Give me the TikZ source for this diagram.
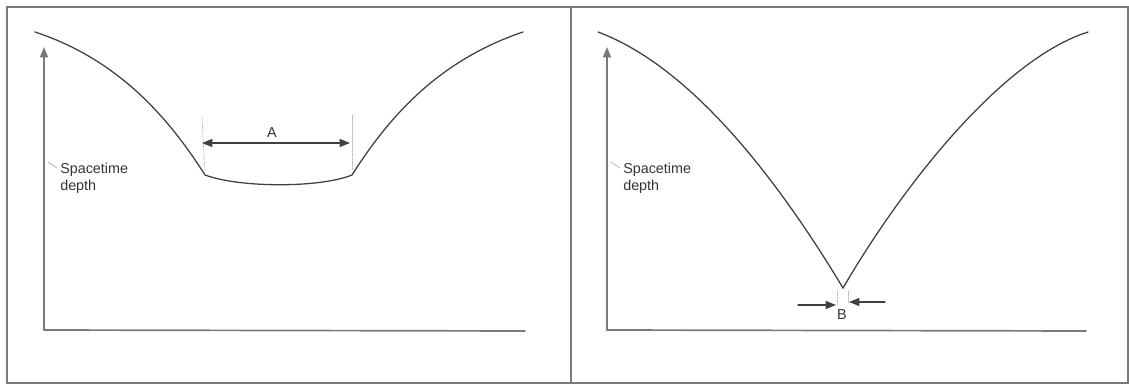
\documentclass[tikz,border=0pt]{standalone}
\usepackage{fontspec}
\setmainfont{Liberation Sans}
\usetikzlibrary{arrows.meta}
\usepackage{xcolor}
\definecolor{framegray}{HTML}{7A7A7A}
\definecolor{curvegray}{HTML}{404040}

\begin{document}
\begin{tikzpicture}[x=0.025cm,y=-0.025cm,>={Triangle[length=2.6mm,width=2mm]},
  font=\fontsize{10.2}{12}\selectfont,line cap=round,
  frame/.style={framegray,line width=1.5pt},
  axis/.style={framegray,line width=1.2pt},
  curve/.style={curvegray,line width=0.9pt},
  guide/.style={gray!70,densely dotted,line width=0.5pt},
  leader/.style={gray!60,line width=0.5pt},
  lbl/.style={inner sep=0pt,text=black!80,align=left}]
\useasboundingbox (0,0) rectangle (1129,385);
% outer frame and divider
\draw[frame] (7,7) rectangle (1128,383);
\draw[frame] (571,7) -- (571,383);
% left panel
\coordinate (lO) at (44,330);
\coordinate (lTop) at (44,47);
\coordinate (lEnd) at (525,331);
\draw[axis] (lEnd) -- (lO);
\draw[axis,->] (lO) -- (lTop);
\coordinate (lS) at (35,32);
\coordinate (lA) at (205,175);
\coordinate (lB) at (352,175);
\coordinate (lE) at (523,32);
\draw[curve] (lS) .. controls (120,60) and (170,120) .. (lA)
  .. controls (240,188) and (320,188) .. (lB)
  .. controls (390,115) and (440,60) .. (lE);
\coordinate (gA1) at (202,117);
\coordinate (gA2) at (352,115);
\draw[guide] (gA1) -- (lA);
\draw[guide] (gA2) -- (352,170);
\coordinate (aL) at (202,143);
\coordinate (aR) at (350,143);
\draw[curve,<->] (aL) -- (aR);
\node[lbl] (labA) at (272,133) {A};
\node[lbl,anchor=north west] (depthL) at (60,163) {Spacetime\\depth};
\coordinate (tipL) at (57,168);
\draw[leader] (48,162) -- (tipL);
% right panel
\coordinate (rO) at (607,330);
\coordinate (rTop) at (607,47);
\coordinate (rEnd) at (1086,331);
\draw[axis] (rEnd) -- (rO);
\draw[axis,->] (rO) -- (rTop);
\coordinate (rS) at (598,32);
\coordinate (rV) at (843,288);
\coordinate (rE) at (1088,32);
\draw[curve] (rS) .. controls (700,70) and (790,200) .. (rV)
  .. controls (900,190) and (1000,60) .. (rE);
\coordinate (gB1) at (837,291);
\coordinate (gB2) at (848,291);
\draw[guide] (gB1) -- (837,305);
\draw[guide] (gB2) -- (848,303);
\coordinate (bL) at (798,305);
\coordinate (bR) at (885,302);
\draw[curve,->] (bL) -- (836,305);
\draw[curve,->] (bR) -- (849,302);
\node[lbl] (labB) at (842,315) {B};
\node[lbl,anchor=north west] (depthR) at (623,163) {Spacetime\\depth};
\coordinate (tipR) at (620,168);
\draw[leader] (611,162) -- (tipR);
\end{tikzpicture}
\end{document}
